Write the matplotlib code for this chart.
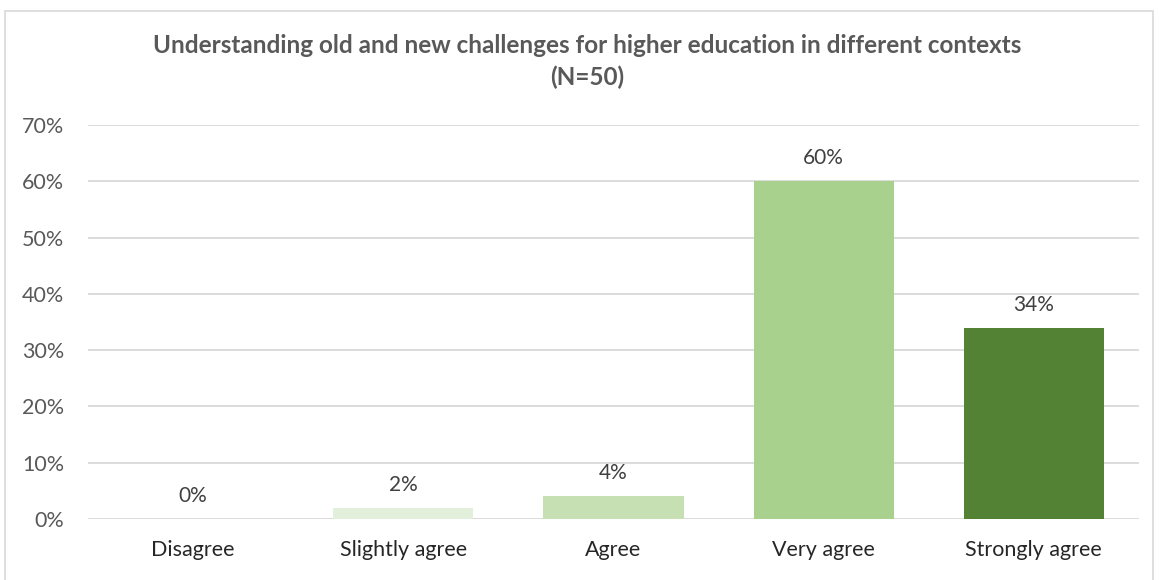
import matplotlib.pyplot as plt
from matplotlib.patches import Rectangle
from matplotlib.ticker import PercentFormatter

categories = ['Disagree', 'Slightly agree', 'Agree', 'Very agree', 'Strongly agree']
shares = [0, 2, 4, 60, 34]
bar_colors = ['#F2F7EE', '#E2EFDA', '#C6E0B4', '#A9D18E', '#548235']
y_ticks = [0, 10, 20, 30, 40, 50, 60, 70]

plt.rcParams['font.family'] = ['Lato', 'DejaVu Sans']

fig = plt.figure(figsize=(11.59, 5.80), dpi=100)
ax = fig.add_axes([0.0759, 0.1052, 0.9068, 0.6793])

x = range(len(categories))
bars = ax.bar(x, shares, width=0.667, color=bar_colors, zorder=3)

for xi, v in zip(x, shares):
    ax.annotate(f'{v}%', (xi, v), xytext=(0, 13), textcoords='offset pixels',
                ha='center', va='bottom', fontsize=15, color='#404040')

ax.set_xlim(-0.5, len(categories) - 0.5)
ax.set_ylim(0, 70)
ax.set_yticks(y_ticks)
ax.yaxis.set_major_formatter(PercentFormatter(decimals=0))
ax.set_xticks(list(x))
ax.set_xticklabels(categories)
ax.tick_params(axis='both', length=0, labelsize=15.5, labelcolor='#595959')
ax.tick_params(axis='x', pad=15, labelcolor='#262626')
ax.tick_params(axis='y', pad=17)
ax.grid(axis='y', color='#D9D9D9', linewidth=1.3, zorder=0)
for s in ax.spines.values():
    s.set_visible(False)

fig.text(0.507, 0.894, 'Understanding old and new challenges for higher education in different contexts\n(N=50)',
         ha='center', va='center', fontsize=17.5, fontweight='bold', color='#595959',
         linespacing=1.45)

fig.patches.append(Rectangle((5 / 1159, -0.01), 1148 / 1159, 0.9914, transform=fig.transFigure,
                             fill=False, edgecolor='#D9D9D9', linewidth=1.2))

fig.savefig('out.png', dpi=100)
